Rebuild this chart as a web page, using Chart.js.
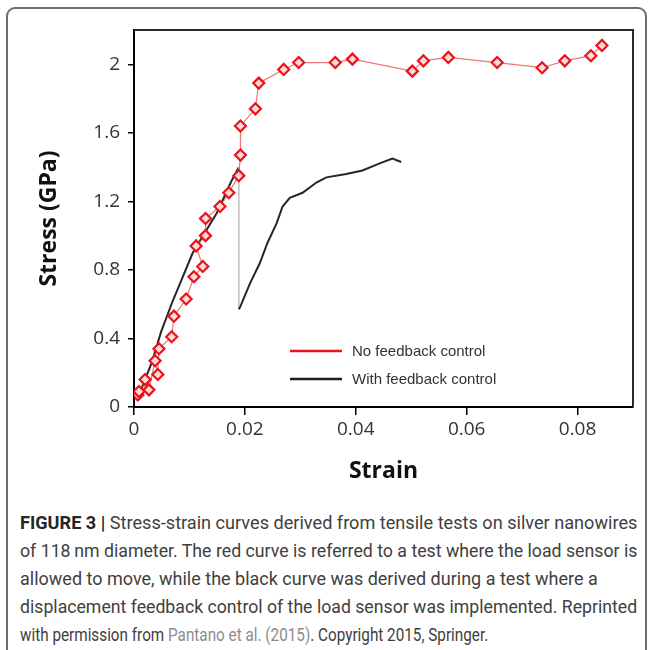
<!DOCTYPE html>
<html>
<head>
<meta charset="utf-8">
<title>Stress-strain curves</title>
<script src="https://cdn.jsdelivr.net/npm/chart.js@4.4.1/dist/chart.umd.min.js"></script>
<style>
  body { margin: 0; background: #fff; }
  #page { position: relative; width: 654px; height: 650px; overflow: hidden; }
  #frame {
    position: absolute; left: 6px; top: 7px; width: 641px; height: 700px;
    border: 2px solid #6e6e6e; border-radius: 9px; box-sizing: border-box;
  }
  #chart-box { position: absolute; left: 0; top: 0; width: 654px; height: 500px; }
  #caption {
    position: absolute; left: 20px; top: 509px;
    font-family: Roboto, "Liberation Sans", sans-serif;
    font-size: 19px; line-height: 28px; color: #404040;
    white-space: nowrap;
  }
  #caption div { transform-origin: left top; }
  #caption span.line { display: inline-block; }
  #caption b { color: #262626; }
  #caption .link { color: #8c8c8c; }
</style>
</head>
<body>
<div id="page">
  <div id="frame"></div>
  <div id="chart-box"><canvas id="chartStress" width="654" height="500"></canvas></div>
  <div id="caption">
    <div data-w="617"><span class="line"><b>FIGURE 3 |</b> Stress-strain curves derived from tensile tests on silver nanowires</span></div>
    <div data-w="617"><span class="line">of 118&#8201;nm diameter. The red curve is referred to a test where the load sensor is</span></div>
    <div data-w="578"><span class="line">allowed to move, while the black curve was derived during a test where a</span></div>
    <div data-w="617"><span class="line">displacement feedback control of the load sensor was implemented. Reprinted</span></div>
    <div data-w="468"><span class="line">with permission from <span class="link">Pantano et al. (2015)</span>. Copyright 2015, Springer.</span></div>
  </div>
</div>
<script>
// datos
const seriesNames = ['No feedback control', 'With feedback control'];

// curva roja (sin control)
const noFbStrain = [0.0007, 0.0009, 0.0020, 0.0027, 0.0038, 0.0043, 0.0045, 0.0068, 0.0072, 0.0094,
  0.0108, 0.0124, 0.0112, 0.0129, 0.0129, 0.0155, 0.0171, 0.0189, 0.0192, 0.0192,
  0.0219, 0.0225, 0.0270, 0.0297, 0.0363, 0.0394, 0.0502, 0.0522, 0.0567, 0.0655,
  0.0736, 0.0777, 0.0824, 0.0844];
const noFbStress = [0.07, 0.09, 0.16, 0.10, 0.27, 0.19, 0.34, 0.41, 0.53, 0.63,
  0.76, 0.82, 0.94, 1.00, 1.10, 1.17, 1.25, 1.35, 1.47, 1.64,
  1.74, 1.89, 1.97, 2.01, 2.01, 2.03, 1.96, 2.02, 2.04, 2.01,
  1.98, 2.02, 2.05, 2.11];

// curva negra (con control)
const fbStrain = [0.0005, 0.0020, 0.0032, 0.0049, 0.0070, 0.0106, 0.0149, 0.0176, 0.0189, 0.0189,
  0.0191, 0.0209, 0.0227, 0.0241, 0.0257, 0.0268, 0.0281, 0.0304, 0.0329, 0.0347,
  0.0383, 0.0412, 0.0442, 0.0466, 0.0482];
const fbStress = [0.04, 0.16, 0.26, 0.44, 0.62, 0.90, 1.13, 1.32, 1.40, 0.57,
  0.58, 0.72, 0.84, 0.96, 1.07, 1.17, 1.22, 1.25, 1.31, 1.34,
  1.36, 1.38, 1.42, 1.45, 1.43];

// ejes
const xTicks = [0, 0.02, 0.04, 0.06, 0.08];
const xTickLabels = ['0', '0.02', '0.04', '0.06', '0.08'];
const yTicks = [0, 0.4, 0.8, 1.2, 1.6, 2];
const yTickLabels = ['0', '0.4', '0.8', '1.2', '1.6', '2'];

const toPoints = (xs, ys) => xs.map((x, i) => ({ x, y: ys[i] }));

/* ================================
   PLUGINS: marco y leyenda interna
================================= */
const frameBox = {
  id: 'frameBox',
  afterDraw(chart) {
    const { ctx, chartArea: a } = chart;
    ctx.save();
    ctx.strokeStyle = '#2b2b2b';
    ctx.lineWidth = 2;
    ctx.beginPath();
    ctx.moveTo(a.left, a.top);
    ctx.lineTo(a.right, a.top);
    ctx.lineTo(a.right, a.bottom);
    ctx.stroke();
    ctx.restore();
  }
};

const innerLegend = {
  id: 'innerLegend',
  afterDraw(chart, args, opts) {
    const { ctx, chartArea: a } = chart;
    ctx.save();
    ctx.font = '15px "Liberation Sans", Arial, sans-serif';
    ctx.textBaseline = 'middle';
    chart.data.datasets.forEach((ds, i) => {
      const y = a.top + opts.top + i * opts.gap;
      const x = a.left + opts.left;
      ctx.strokeStyle = opts.colors[i];
      ctx.lineWidth = 2.5;
      ctx.beginPath();
      ctx.moveTo(x, y);
      ctx.lineTo(x + opts.lineLen, y);
      ctx.stroke();
      ctx.fillStyle = '#333';
      ctx.fillText(ds.label, x + opts.lineLen + 10, y + 1);
    });
    ctx.restore();
  }
};

/* ================================
   GRAFICO
================================= */
const axisFont = { family: '"Open Sans", sans-serif', size: 19 };
const titleFont = { family: '"Open Sans", sans-serif', size: 23, weight: 'bold' };

new Chart(document.getElementById('chartStress'), {
  type: 'line',
  data: {
    datasets: [
      {
        label: seriesNames[0],
        data: toPoints(noFbStrain, noFbStress),
        borderColor: 'rgba(236, 70, 70, 0.75)',
        borderWidth: 1.2,
        pointStyle: 'rectRot',
        pointRadius: 5.5,
        pointBorderWidth: 2.2,
        pointBorderColor: '#e8141c',
        pointBackgroundColor: '#ffd9d9',
        tension: 0
      },
      {
        label: seriesNames[1],
        data: toPoints(fbStrain, fbStress),
        borderColor: '#262626',
        borderWidth: 2,
        pointRadius: 0,
        tension: 0,
        segment: {
          // caida vertical en gris claro
          borderColor: c => c.p0.parsed.x === c.p1.parsed.x ? '#c4c4c4' : undefined,
          borderWidth: c => c.p0.parsed.x === c.p1.parsed.x ? 1 : undefined
        }
      }
    ]
  },
  options: {
    responsive: false,
    animation: false,
    layout: { padding: { left: 0, top: 30, right: 21, bottom: 0 } },
    plugins: {
      legend: { display: false },
      tooltip: { enabled: false },
      innerLegend: {
        left: 156, top: 321, gap: 28, lineLen: 52,
        colors: ['#e8141c', '#1e1e1e']
      }
    },
    scales: {
      x: {
        type: 'linear',
        min: 0,
        max: 0.09,
        afterBuildTicks: s => { s.ticks = xTicks.map(v => ({ value: v })); },
        afterFit: s => { s.height = 93; },
        ticks: {
          font: axisFont, color: '#333', padding: 3, maxRotation: 0,
          callback: (v, i) => xTickLabels[i]
        },
        grid: { drawOnChartArea: false, color: '#000', lineWidth: 1.5, tickLength: 8 },
        border: { color: '#000', width: 2 },
        title: { display: true, text: 'Strain', font: titleFont, color: '#111', padding: { top: 0, bottom: 15 } }
      },
      y: {
        type: 'linear',
        min: 0,
        max: 2.2,
        afterBuildTicks: s => { s.ticks = yTicks.map(v => ({ value: v })); },
        afterFit: s => { s.width = 134; },
        ticks: {
          font: axisFont, color: '#333', padding: 8,
          callback: (v, i) => yTickLabels[i]
        },
        grid: { drawOnChartArea: false, color: '#000', lineWidth: 1.5, tickLength: 6 },
        border: { color: '#000', width: 2 },
        title: { display: true, text: 'Stress (GPa)', font: titleFont, color: '#111', padding: { top: 36, bottom: 0 } }
      }
    }
  },
  plugins: [frameBox, innerLegend]
});

// ajustar cada linea del pie al ancho de la figura original (fuente condensada)
function ajustarPie() {
  document.querySelectorAll('#caption > div').forEach(row => {
    const span = row.querySelector('span.line');
    const w = span.offsetWidth; // ancho sin transformar
    row.style.transform = `scaleX(${Number(row.dataset.w) / w})`;
  });
}
ajustarPie();
document.fonts.ready.then(ajustarPie);
</script>
</body>
</html>
